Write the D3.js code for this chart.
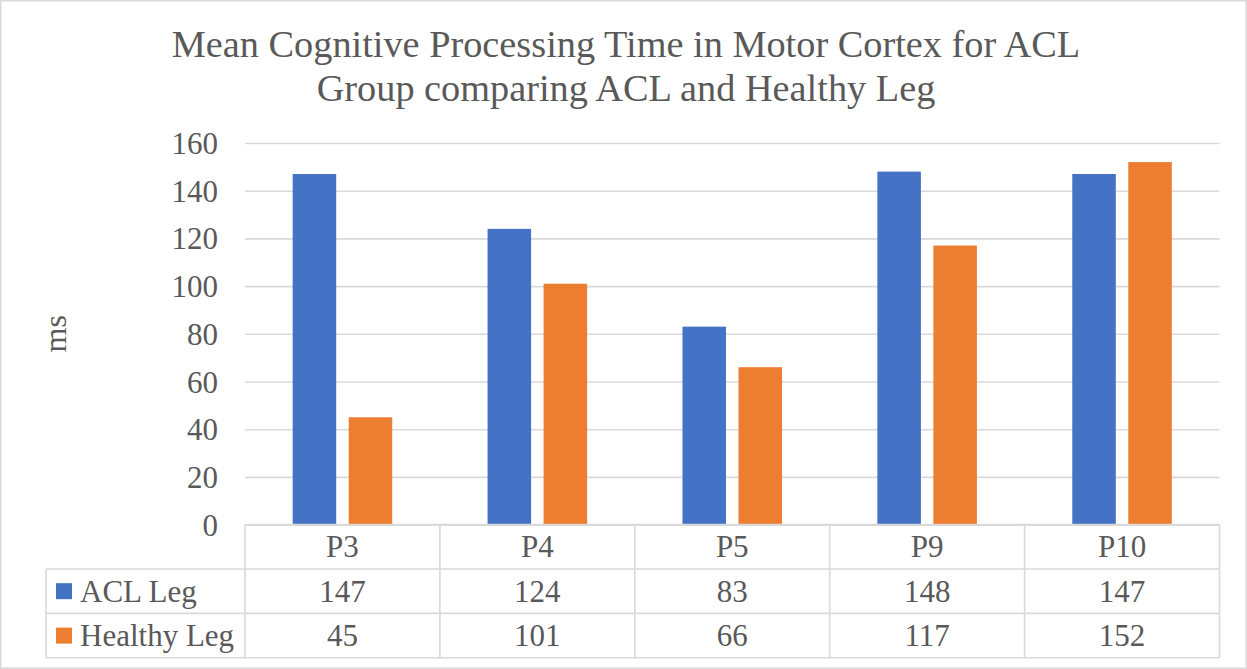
<!DOCTYPE html>
<html>
<head>
<meta charset="utf-8">
<script src="https://cdn.jsdelivr.net/npm/d3@7"></script>
<style>
  html, body { margin: 0; padding: 0; background: #fff; }
  svg { display: block; }
  text { font-family: "Liberation Serif", "Times New Roman", serif; fill: #595959; }
</style>
</head>
<body>
<svg id="chart" width="1247" height="669"></svg>
<script>
// Participants and the two measured legs (ms)
const categories = ["P3", "P4", "P5", "P9", "P10"];
const seriesNames = ["ACL Leg", "Healthy Leg"];
const aclLeg = [147, 124, 83, 148, 147];
const healthyLeg = [45, 101, 66, 117, 152];
const seriesColors = ["#4472C4", "#ED7D31"];
const yTicks = [0, 20, 40, 60, 80, 100, 120, 140, 160];
const titleLines = ["Mean Cognitive Processing Time in Motor Cortex for ACL",
                    "Group comparing ACL and Healthy Leg"];
const yTitle = "ms";

const seriesValues = [aclLeg, healthyLeg];
const W = 1247, H = 669;
const plot = { left: 245, right: 1219.5, top: 143, bottom: 524.6 };
const rowH = 44.4;
const tableLeft = 46;
const gridColor = "#d9d9d9";
const fontSize = 31;

const svg = d3.select("#chart");

// outer chart border
svg.append("rect")
  .attr("x", 0.75).attr("y", 0.75)
  .attr("width", W - 1.5).attr("height", H - 1.5)
  .attr("fill", "none").attr("stroke", gridColor).attr("stroke-width", 1.5);

// title
svg.append("g").selectAll("text")
  .data(titleLines)
  .join("text")
  .attr("x", 626)
  .attr("y", (d, i) => 57 + i * 44)
  .attr("text-anchor", "middle")
  .attr("font-size", 38.3)
  .text(d => d);

// scales
const x0 = d3.scaleBand().domain(categories).range([plot.left, plot.right]);
const x1 = d3.scaleBand().domain(seriesNames)
  .range([0, x0.bandwidth()])
  .paddingInner(0.223).paddingOuter(0.851);
const y = d3.scaleLinear().domain([0, 160]).range([plot.bottom, plot.top]);

// y axis with gridlines
const yAxis = svg.append("g")
  .attr("transform", `translate(${plot.left},0)`)
  .call(d3.axisLeft(y).tickValues(yTicks).tickSize(-(plot.right - plot.left)).tickPadding(27));
yAxis.select(".domain").remove();
yAxis.selectAll(".tick line").attr("stroke", gridColor).attr("stroke-width", 1.6);
yAxis.selectAll(".tick text")
  .attr("font-size", fontSize)
  .attr("font-family", "'Liberation Serif', 'Times New Roman', serif")
  .attr("fill", "#595959")
  .attr("dy", "0.34em");

// y axis title
svg.append("text")
  .attr("transform", `translate(66,${(plot.top + plot.bottom) / 2}) rotate(-90)`)
  .attr("text-anchor", "middle")
  .attr("font-size", 32)
  .text(yTitle);

// bars
const groups = svg.append("g").selectAll("g")
  .data(categories)
  .join("g")
  .attr("transform", d => `translate(${x0(d)},0)`);
groups.selectAll("rect")
  .data((c, ci) => seriesNames.map((s, si) => ({ s, si, v: seriesValues[si][ci] })))
  .join("rect")
  .attr("x", d => x1(d.s))
  .attr("width", x1.bandwidth())
  .attr("y", d => y(d.v))
  .attr("height", d => y(0) - y(d.v))
  .attr("fill", d => seriesColors[d.si]);

// data table
const table = svg.append("g");
const rowTop = i => plot.bottom + i * rowH;
const line = (x1_, y1_, x2_, y2_) => table.append("line")
  .attr("x1", x1_).attr("y1", y1_).attr("x2", x2_).attr("y2", y2_)
  .attr("stroke", gridColor).attr("stroke-width", 1.6);

line(plot.left, rowTop(0), plot.right, rowTop(0));
for (let i = 1; i <= 3; i++) line(tableLeft, rowTop(i), plot.right, rowTop(i));
line(tableLeft, rowTop(1), tableLeft, rowTop(3));
categories.forEach(c => line(x0(c), rowTop(0), x0(c), rowTop(3)));
line(plot.right, rowTop(0), plot.right, rowTop(3));

// category header row
table.selectAll("text.cat")
  .data(categories)
  .join("text")
  .attr("class", "cat")
  .attr("x", d => x0(d) + x0.bandwidth() / 2)
  .attr("y", rowTop(0) + rowH / 2)
  .attr("dy", "0.34em")
  .attr("text-anchor", "middle")
  .attr("font-size", fontSize)
  .text(d => d);

// series rows with legend keys
seriesNames.forEach((s, si) => {
  const cy = rowTop(si + 1) + rowH / 2;
  table.append("rect")
    .attr("x", 56).attr("y", cy - 8)
    .attr("width", 16).attr("height", 16)
    .attr("fill", seriesColors[si]);
  table.append("text")
    .attr("x", 80).attr("y", cy).attr("dy", "0.34em")
    .attr("font-size", fontSize)
    .text(s);
  table.selectAll(null)
    .data(seriesValues[si])
    .join("text")
    .attr("x", (d, i) => x0(categories[i]) + x0.bandwidth() / 2)
    .attr("y", cy).attr("dy", "0.34em")
    .attr("text-anchor", "middle")
    .attr("font-size", fontSize)
    .text(d => d);
});
</script>
</body>
</html>
